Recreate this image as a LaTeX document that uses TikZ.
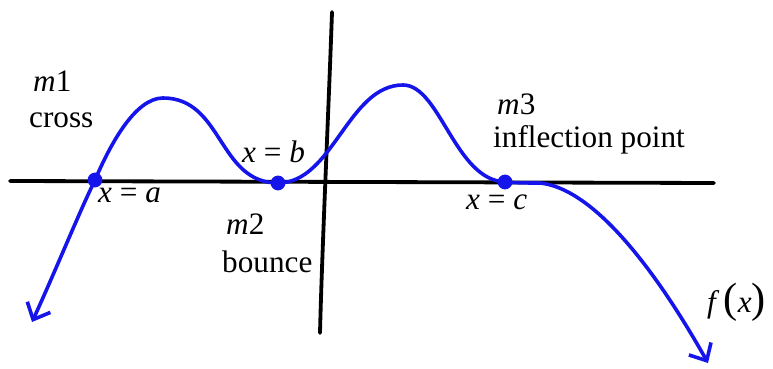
\documentclass[tikz,border=0pt]{standalone}
\usepackage{fontspec}
\setmainfont{Liberation Serif}
\usetikzlibrary{arrows.meta}
\definecolor{fx-blue}{RGB}{20, 20, 235}

\tikzset{
  lbl/.style={anchor=base west, inner sep=0pt, font=\fontsize{29.5}{33}\selectfont},
  root/.style={circle, fill=fx-blue, inner sep=0pt, minimum size=14pt},
  axis/.style={line width=3.6pt, line cap=round},
  graph/.style={line width=3.4pt, color=fx-blue, line cap=round, line join=round}
}

\begin{document}
\begin{tikzpicture}[x=0.945pt, y=-0.945pt]
    \useasboundingbox (0,0) rectangle (773,369);

    \coordinate (xl) at (10,181);
    \coordinate (xr) at (714,183);
    \coordinate (yt) at (332,12);
    \coordinate (yb) at (320,333);
    \coordinate (s) at (32,322);
    \coordinate (a) at (95,180);
    \coordinate (top1) at (163,98);
    \coordinate (b) at (278,183);
    \coordinate (top2) at (403,85);
    \coordinate (c) at (505,182);
    \coordinate (flat) at (540,183);
    \coordinate (e) at (708,363);

    \draw[axis] (xl) -- (xr);
    \draw[axis] (yt) .. controls (329,100) and (322,250) .. (yb);

    \draw[graph, {Straight Barb[length=13pt, width=24pt]}-{Straight Barb[length=13pt, width=24pt]}]
        (s) .. controls (55,272) and (78,215) .. (a)
            .. controls (110,145) and (135,98) .. (top1)
            .. controls (223,98) and (218,183) .. (b)
            .. controls (333,183) and (348,85) .. (top2)
            .. controls (440,85) and (455,180) .. (c)
            .. controls (518,183) and (528,183) .. (flat)
            .. controls (590,188) and (650,260) .. (e);

    \node[root] (ra) at (a) {};
    \node[root] (rb) at (b) {};
    \node[root] (rc) at (c) {};

    \node[lbl] (m1) at (33,92) {\textit{m}1};
    \node[lbl] (cross) at (29,128) {cross};
    \node[lbl] (xa) at (98,203) {\textit{x} = \textit{a}};
    \node[lbl] (xb) at (242,163) {\textit{x} = \textit{b}};
    \node[lbl] (m2) at (226,235) {\textit{m}2};
    \node[lbl] (bounce) at (222,273) {bounce};
    \node[lbl] (m3) at (497,115) {\textit{m}3};
    \node[lbl] (infl) at (493,148) {inflection point};
    \node[lbl] (xc) at (466,210) {\textit{x} = \textit{c}};
    \node[lbl] (fx) at (707,313) {\textit{f}\hspace{4pt}{\fontsize{40}{40}\selectfont(}\textit{x}{\fontsize{40}{40}\selectfont)}};
\end{tikzpicture}
\end{document}
